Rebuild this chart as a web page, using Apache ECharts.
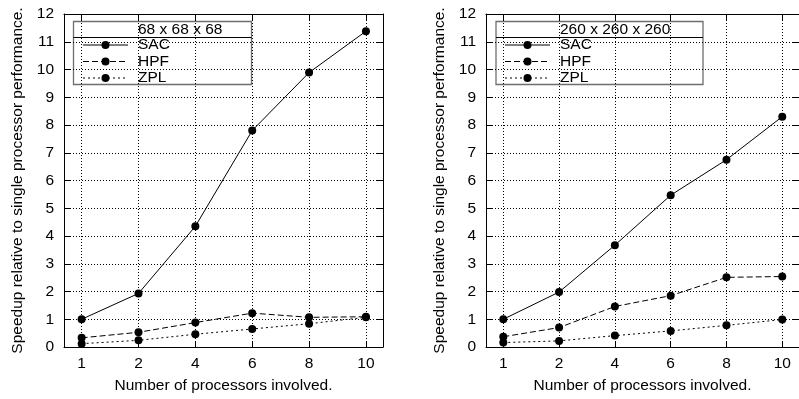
<!DOCTYPE html>
<html>
<head>
<meta charset="utf-8">
<script src="https://cdn.jsdelivr.net/npm/echarts@6/dist/echarts.min.js"></script>
<style>html,body{margin:0;padding:0;background:#fff}#c{width:799px;height:399px}</style>
</head>
<body>
<div id="c"></div>
<script>
const categories = ['1', '2', '4', '6', '8', '10'];
const panelTitles = ['68 x 68 x 68', '260 x 260 x 260'];
const seriesNames = ['SAC', 'HPF', 'ZPL'];
const sac68 = [1.0, 1.93, 4.35, 7.8, 9.89, 11.38];
const hpf68 = [0.33, 0.53, 0.88, 1.22, 1.07, 1.09];
const zpl68 = [0.12, 0.24, 0.46, 0.65, 0.84, 1.07];
const sac260 = [1.0, 1.98, 3.67, 5.47, 6.75, 8.3];
const hpf260 = [0.37, 0.70, 1.46, 1.85, 2.51, 2.54];
const zpl260 = [0.16, 0.22, 0.41, 0.58, 0.78, 0.99];
const yMin = 0, yMax = 12, yStep = 1;
const xAxisName = 'Number of processors involved.';
const yAxisName = 'Speedup relative to single processor performance.';

const FONT = 'Liberation Sans, Arial, Helvetica, sans-serif';
const FS = 15.5;
const idx = categories.map((_, i) => i);
const dashes = [null, [6, 3], [2, 3]];
const gridLefts = [64, 486];
const gridW = 319, gridTop = 14, gridH = 333.7;

const grids = [], xAxes = [], yAxes = [], series = [], graphics = [];
const panels = [[sac68, hpf68, zpl68], [sac260, hpf260, zpl260]];

const dotted = { color: '#000', width: 1, type: [1, 2] };

panels.forEach((data, p) => {
  grids.push({ left: gridLefts[p], top: gridTop, width: gridW, height: gridH, containLabel: false });
  xAxes.push({
    gridIndex: p, type: 'value', min: -0.31, max: 5.3, position: 'bottom',
    name: xAxisName, nameLocation: 'middle', nameGap: 31,
    nameTextStyle: { fontFamily: FONT, fontSize: FS, color: '#000' },
    axisLine: { show: true, onZero: false, lineStyle: { color: '#000', width: 1 } },
    axisTick: { show: true, inside: true, length: 6, customValues: idx, lineStyle: { color: '#000' } },
    axisLabel: { show: true, customValues: idx, margin: 9, fontFamily: FONT, fontSize: FS, color: '#000',
      formatter: v => categories[Math.round(v)] },
    splitLine: { show: true, lineStyle: dotted }
  });
  xAxes.push({
    gridIndex: p, type: 'value', min: -0.31, max: 5.3, position: 'top',
    axisLine: { show: true, onZero: false, lineStyle: { color: '#000', width: 1 } },
    axisTick: { show: true, inside: true, length: 6, customValues: idx, lineStyle: { color: '#000' } },
    axisLabel: { show: false },
    splitLine: { show: false }
  });
  yAxes.push({
    gridIndex: p, type: 'value', min: yMin, max: yMax, interval: yStep, position: 'left',
    name: yAxisName, nameLocation: 'middle', nameGap: 38, nameRotate: 90,
    nameTextStyle: { fontFamily: FONT, fontSize: FS, color: '#000' },
    axisLine: { show: true, onZero: false, lineStyle: { color: '#000', width: 1 } },
    axisTick: { show: true, inside: true, length: 6, lineStyle: { color: '#000' } },
    axisLabel: { margin: 10, fontFamily: FONT, fontSize: FS, color: '#000' },
    splitLine: { show: true, lineStyle: dotted }
  });
  yAxes.push({
    gridIndex: p, type: 'value', min: yMin, max: yMax, interval: yStep, position: 'right',
    axisLine: { show: true, onZero: false, lineStyle: { color: '#000', width: 1 } },
    axisTick: { show: true, inside: true, length: 6, lineStyle: { color: '#000' } },
    axisLabel: { show: false },
    splitLine: { show: false }
  });
  data.forEach((vals, s) => {
    series.push({
      type: 'line', name: seriesNames[s] + p,
      xAxisIndex: p * 2, yAxisIndex: p * 2,
      data: vals.map((v, i) => [i, v]),
      symbol: 'circle', symbolSize: 8, showSymbol: true,
      itemStyle: { color: '#000' },
      lineStyle: { color: '#000', width: 1, type: dashes[s] || 'solid' },
      animation: false, z: 3 + (2 - s)
    });
  });
});

const legendBoxes = [
  { x: 73.5, w: 178, lineX0: 83, lineX1: 128, textX: 138 },
  { x: 496, w: 207, lineX0: 505, lineX1: 550, textX: 560 }
];
const rowY = [45, 61.5, 78];
legendBoxes.forEach((b, p) => {
  const children = [];
  children.push({ type: 'rect', shape: { x: b.x, y: 21.5, width: b.w, height: 63 },
    style: { fill: '#fff', stroke: '#6e6e6e', lineWidth: 1.3 } });
  children.push({ type: 'line', shape: { x1: b.x, y1: 37.5, x2: b.x + b.w, y2: 37.5 },
    style: { stroke: '#000', lineWidth: 1 } });
  children.push({ type: 'text', x: b.textX, y: 29.5,
    style: { text: panelTitles[p], font: FS + 'px ' + FONT, fill: '#000', verticalAlign: 'middle', align: 'left' } });
  seriesNames.forEach((n, s) => {
    children.push({ type: 'line', shape: { x1: b.lineX0, y1: rowY[s], x2: b.lineX1, y2: rowY[s] },
      style: { stroke: '#000', lineWidth: 1, lineDash: dashes[s] } });
    children.push({ type: 'circle', shape: { cx: (b.lineX0 + b.lineX1) / 2, cy: rowY[s], r: 4 },
      style: { fill: '#000' } });
    children.push({ type: 'text', x: b.textX, y: rowY[s],
      style: { text: n, font: FS + 'px ' + FONT, fill: '#000', verticalAlign: 'middle', align: 'left' } });
  });
  graphics.push({ type: 'group', z: 100, children: children });
});

const chart = echarts.init(document.getElementById('c'), null, { renderer: 'canvas' });
chart.setOption({
  animation: false,
  backgroundColor: '#fff',
  grid: grids,
  xAxis: xAxes,
  yAxis: yAxes,
  series: series,
  graphic: graphics
});
</script>
</body>
</html>
